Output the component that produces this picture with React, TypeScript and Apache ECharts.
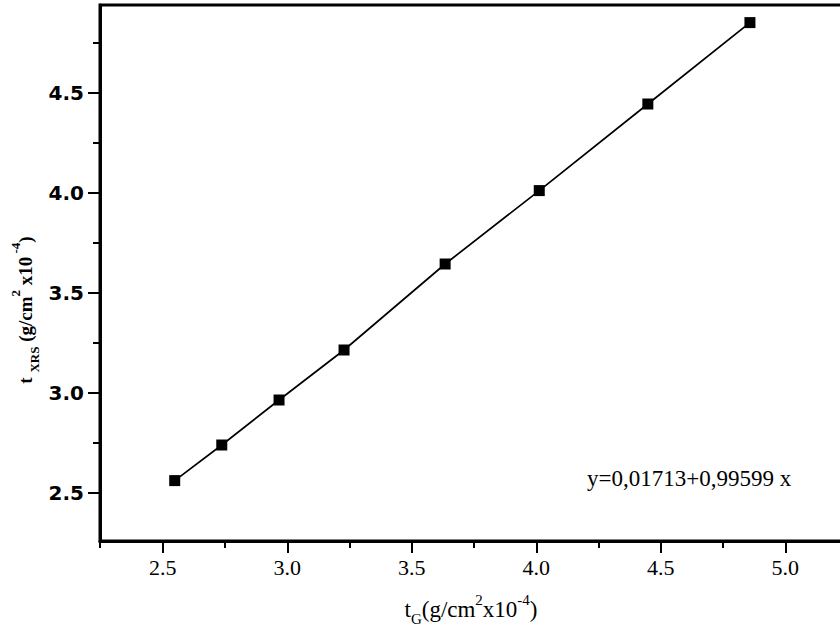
import React, { useEffect, useRef } from "react";
import * as echarts from "echarts";

// Gravimetric thickness vs XRS thickness (g/cm² ×10⁻⁴)
const tG: number[] = [2.548, 2.737, 2.967, 3.228, 3.634, 4.012, 4.448, 4.858];
const tXRS: number[] = [2.562, 2.74, 2.965, 3.215, 3.645, 4.012, 4.445, 4.852];

const xMajorTicks: number[] = [2.5, 3.0, 3.5, 4.0, 4.5, 5.0];
const xMinorTicks: number[] = [2.75, 3.25, 3.75, 4.25, 4.75];
const yMajorTicks: number[] = [2.5, 3.0, 3.5, 4.0, 4.5];
const yMinorTicks: number[] = [2.75, 3.25, 3.75, 4.25, 4.75];

const fitLabel = "y=0,01713+0,99599 x";

const X_MIN = 2.248;
const X_MAX = 5.3;
const Y_MIN = 2.26;
const Y_MAX = 4.94;

const serif = "'Liberation Serif', 'Times New Roman', serif";
const sans = "'DejaVu Sans', sans-serif";

export default function App() {
  const ref = useRef<HTMLDivElement>(null);

  useEffect(() => {
    if (!ref.current) return;
    const chart = echarts.init(ref.current, undefined, { renderer: "svg" });

    const axisLine = { show: true, onZero: false, lineStyle: { color: "#000", width: 3 } };
    const tickStyle = { color: "#000", width: 2 };

    const option: any = {
      animation: false,
      backgroundColor: "#fff",
      grid: {
        left: 100,
        top: 5,
        right: -20,
        bottom: 92,
        show: true,
        borderColor: "#000",
        borderWidth: 3,
        outerBoundsMode: "none",
      },
      xAxis: [
        {
          type: "value",
          position: "bottom",
          min: X_MIN,
          max: X_MAX,
          axisLine,
          splitLine: { show: false },
          axisTick: { show: true, length: 12, customValues: xMajorTicks, lineStyle: tickStyle },
          axisLabel: {
            customValues: xMajorTicks,
            formatter: (v: number) => v.toFixed(1),
            color: "#000",
            fontFamily: serif,
            fontSize: 22,
            margin: 15,
          },
        },
        {
          type: "value",
          position: "bottom",
          min: X_MIN,
          max: X_MAX,
          axisLine: { show: false },
          splitLine: { show: false },
          axisTick: { show: true, length: 7, customValues: [X_MIN, ...xMinorTicks], lineStyle: tickStyle },
          axisLabel: { show: false },
        },
      ],
      yAxis: [
        {
          type: "value",
          position: "left",
          min: Y_MIN,
          max: Y_MAX,
          axisLine,
          splitLine: { show: false },
          axisTick: { show: true, length: 12, customValues: yMajorTicks, lineStyle: tickStyle },
          axisLabel: {
            customValues: yMajorTicks,
            formatter: (v: number) => v.toFixed(1),
            color: "#000",
            fontFamily: sans,
            fontWeight: "bold",
            fontSize: 20,
            margin: 16,
          },
        },
        {
          type: "value",
          position: "left",
          min: Y_MIN,
          max: Y_MAX,
          axisLine: { show: false },
          splitLine: { show: false },
          axisTick: { show: true, length: 7, customValues: yMinorTicks, lineStyle: tickStyle },
          axisLabel: { show: false },
        },
      ],
      series: [
        {
          type: "line",
          xAxisIndex: 0,
          yAxisIndex: 0,
          data: tG.map((x, i) => [x, tXRS[i]]),
          symbol: "rect",
          symbolSize: 11,
          showSymbol: true,
          itemStyle: { color: "#000" },
          lineStyle: { color: "#000", width: 1.7 },
        },
      ],
      graphic: [
        {
          type: "text",
          x: 587,
          y: 478,
          style: {
            text: fitLabel,
            fill: "#000",
            font: `23px ${serif}`,
            textVerticalAlign: "middle",
          },
        },
        {
          type: "text",
          x: 471,
          y: 609,
          style: {
            text: "{m|t}{sub|G}{m|(g/cm}{sup|2}{m|x10}{sup|-4}{m|)}",
            fill: "#000",
            align: "center",
            verticalAlign: "middle",
            rich: {
              m: { fontFamily: serif, fontSize: 23, lineHeight: 34, fill: "#000" },
              sub: { fontFamily: serif, fontSize: 15, lineHeight: 14, verticalAlign: "bottom", fill: "#000" },
              sup: { fontFamily: serif, fontSize: 15, lineHeight: 14, verticalAlign: "top", fill: "#000" },
            },
          },
        },
        {
          type: "text",
          x: 25,
          y: 310,
          rotation: Math.PI / 2,
          style: {
            text: "{m|t }{sub|XRS}{m| (g/cm}{sup|2}{m| x10}{sup| -4}{m|)}",
            fill: "#000",
            align: "center",
            verticalAlign: "middle",
            rich: {
              m: { fontFamily: serif, fontWeight: "bold", fontSize: 19, lineHeight: 32, fill: "#000" },
              sub: { fontFamily: serif, fontWeight: "bold", fontSize: 13, lineHeight: 13, verticalAlign: "bottom", fill: "#000" },
              sup: { fontFamily: serif, fontWeight: "bold", fontSize: 13, lineHeight: 13, verticalAlign: "top", fill: "#000" },
            },
          },
        },
      ],
    };

    chart.setOption(option);
    return () => chart.dispose();
  }, []);

  return (
    <div
      ref={ref}
      style={{ position: "fixed", left: 0, top: 0, width: 840, height: 633, background: "#fff" }}
    />
  );
}
